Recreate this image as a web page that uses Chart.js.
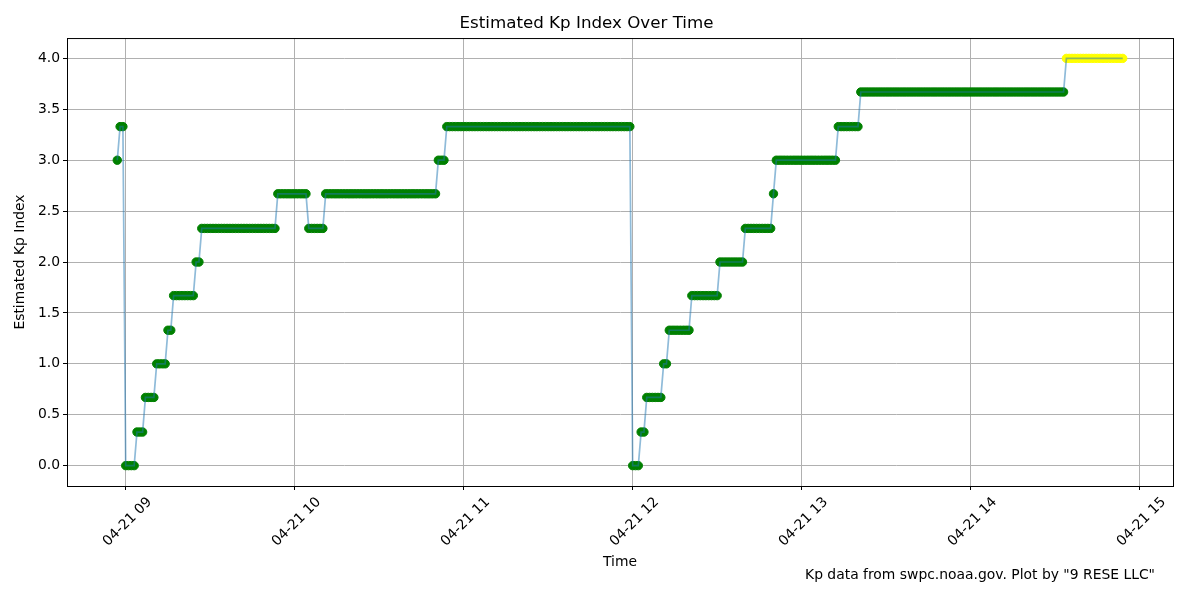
<!DOCTYPE html>
<html>
<head>
<meta charset="utf-8">
<title>Estimated Kp Index Over Time</title>
<script src="https://cdn.jsdelivr.net/npm/chart.js@4.4.1/dist/chart.umd.min.js"></script>
<style>
  html, body { margin: 0; padding: 0; background: #fff; }
  #wrap { width: 1200px; height: 600px; }
</style>
</head>
<body>
<div id="wrap"><canvas id="kpChart" width="1200" height="600"></canvas></div>
<script>
// Kp steps. Minutes are counted from 04-21 09:00, one reading per minute.
const runStart = [-3, -2, 0, 4, 7, 11, 15, 17, 25, 27, 54, 65, 71, 111, 114,
                  180, 183, 185, 191, 193, 201, 211, 220, 230, 231, 253, 261, 334];
const runEnd   = [-3, -1, 3, 6, 10, 14, 16, 24, 26, 53, 64, 70, 110, 113, 179,
                  182, 184, 190, 192, 200, 210, 219, 229, 230, 252, 260, 333, 354];
const runKp    = [3.00, 3.33, 0.00, 0.33, 0.67, 1.00, 1.33, 1.67, 2.00, 2.33, 2.67, 2.33, 2.67, 3.00, 3.33,
                  0.00, 0.33, 0.67, 1.00, 1.33, 1.67, 2.00, 2.33, 2.67, 3.00, 3.33, 3.67, 4.00];

// Axis ticks
const hourTicks  = [0, 60, 120, 180, 240, 300, 360];
const hourLabels = ['04-21 09', '04-21 10', '04-21 11', '04-21 12', '04-21 13', '04-21 14', '04-21 15'];
const kpTicks    = [0, 0.5, 1, 1.5, 2, 2.5, 3, 3.5, 4];

const FONT = 'DejaVu Sans';
const GRID = '#b0b0b0';

// one point per minute for every step
const points = [];
runStart.forEach((s, i) => {
    for (let m = s; m <= runEnd[i]; m++) points.push({ x: m, y: runKp[i] });
});
// storm colouring: yellow once Kp reaches 4
const pointColors = points.map(p => p.y >= 4 ? 'yellow' : 'green');

// matplotlib-like margins of 5% around the data
const xLo = points[0].x, xHi = points[points.length - 1].x;
const xPad = (xHi - xLo) * 0.05;

// box round the axes and the credit line at the bottom
const framePlugin = {
    id: 'frame',
    afterDatasetsDraw(chart) {
        const { ctx, chartArea: a } = chart;
        ctx.save();
        ctx.strokeStyle = '#000';
        ctx.lineWidth = 1;
        ctx.strokeRect(a.left + 0.5, a.top + 0.5, a.right - a.left, a.bottom - a.top);
        ctx.restore();
    },
    afterDraw(chart) {
        const ctx = chart.ctx;
        ctx.save();
        ctx.font = `13.9px "${FONT}"`;
        ctx.fillStyle = '#000';
        ctx.textAlign = 'right';
        ctx.textBaseline = 'middle';
        ctx.fillText('Kp data from swpc.noaa.gov. Plot by "9 RESE LLC"', 1155, 575);
        ctx.restore();
    }
};

new Chart(document.getElementById('kpChart').getContext('2d'), {
    type: 'scatter',
    data: {
        datasets: [
            {
                // connecting line, drawn over the markers
                data: points,
                showLine: true,
                borderColor: 'rgba(31,119,180,0.5)',
                borderWidth: 1.7,
                pointRadius: 0,
                tension: 0,
                fill: false
            },
            {
                data: points,
                pointRadius: 4.2,
                pointBorderWidth: 1,
                pointBackgroundColor: pointColors,
                pointBorderColor: pointColors
            }
        ]
    },
    options: {
        responsive: false,
        animation: false,
        layout: { padding: { left: 0, right: 27, top: 0, bottom: 0 } },
        plugins: {
            legend: { display: false },
            tooltip: { enabled: false },
            title: {
                display: true,
                text: 'Estimated Kp Index Over Time',
                color: '#000',
                font: { family: FONT, size: 16.7, weight: 'normal', lineHeight: 1.2 },
                padding: { top: 14, bottom: 4 }
            }
        },
        scales: {
            x: {
                type: 'linear',
                min: xLo - xPad,
                max: xHi + xPad,
                afterBuildTicks: s => { s.ticks = hourTicks.map(v => ({ value: v })); },
                afterFit: s => { s.height = 114; },
                ticks: {
                    callback: v => hourLabels[hourTicks.indexOf(v)],
                    autoSkip: false,
                    minRotation: 45,
                    maxRotation: 45,
                    labelOffset: 24,
                    padding: 4,
                    color: '#000',
                    font: { family: FONT, size: 13.9 }
                },
                grid: { color: GRID, lineWidth: 1, tickColor: '#000', tickLength: 4 },
                border: { display: true, color: '#000', width: 1 },
                title: {
                    display: true,
                    text: 'Time',
                    color: '#000',
                    font: { family: FONT, size: 13.9, lineHeight: 1.2 },
                    padding: { top: 0, bottom: 29 }
                }
            },
            y: {
                min: -0.2,
                max: 4.2,
                afterBuildTicks: s => { s.ticks = kpTicks.map(v => ({ value: v })); },
                afterFit: s => { s.width = 67; },
                ticks: {
                    callback: v => Number(v).toFixed(1),
                    padding: 3,
                    color: '#000',
                    font: { family: FONT, size: 13.9 }
                },
                grid: { color: GRID, lineWidth: 1, tickColor: '#000', tickLength: 4 },
                border: { display: true, color: '#000', width: 1 },
                title: {
                    display: true,
                    text: 'Estimated Kp Index',
                    color: '#000',
                    font: { family: FONT, size: 13.9, lineHeight: 1.2 },
                    padding: { top: 12, bottom: 0 }
                }
            }
        }
    },
    plugins: [framePlugin]
});
</script>
</body>
</html>
